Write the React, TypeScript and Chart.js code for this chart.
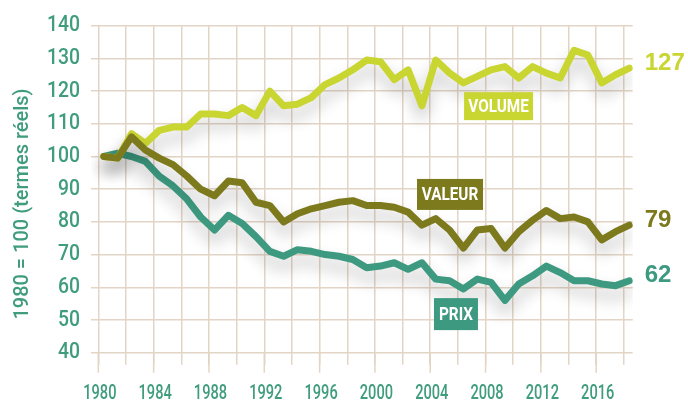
import React, { useEffect, useRef } from 'react';
import { Chart, registerables } from 'chart.js';

Chart.register(...registerables);

const years = [
  1980, 1981, 1982, 1983, 1984, 1985, 1986, 1987, 1988, 1989,
  1990, 1991, 1992, 1993, 1994, 1995, 1996, 1997, 1998, 1999,
  2000, 2001, 2002, 2003, 2004, 2005, 2006, 2007, 2008, 2009,
  2010, 2011, 2012, 2013, 2014, 2015, 2016, 2017, 2018,
];

const volume = [
  100, 99.5, 107, 104, 108, 109, 109, 113, 113, 112.5,
  115, 112.5, 120, 115.5, 116, 118, 122, 124, 126.5, 129.5,
  129, 123.5, 126.5, 115.5, 129.5, 125.5, 122.5, 124.5, 126.5, 127.5,
  124, 127.5, 125.5, 124, 132.5, 131, 122.5, 125, 127,
];

const valeur = [
  100, 99.5, 106, 102, 99.5, 97.5, 94, 90, 88, 92.5,
  92, 86, 85, 80, 82.5, 84, 85, 86, 86.5, 85,
  85, 84.5, 83, 79, 81, 77.5, 72, 77.5, 78, 72,
  77, 80.5, 83.5, 81, 81.5, 80, 74.5, 77, 79,
];

const prix = [
  100, 101, 100, 98.5, 94, 91, 87, 81.5, 77.5, 82,
  79.5, 75.5, 71, 69.5, 71.5, 71, 70, 69.5, 68.5, 66,
  66.5, 67.5, 65.5, 67.5, 62.5, 62, 59.5, 62.5, 61.5, 56,
  61, 63.5, 66.5, 64.5, 62, 62, 61, 60.5, 62,
];

const seriesNames = ['VOLUME', 'VALEUR', 'PRIX'];
const endLabels = ['127', '79', '62'];
const yTickValues = [40, 50, 60, 70, 80, 90, 100, 110, 120, 130, 140];
const xTickYears = [
  1980, 1982, 1984, 1986, 1988, 1990, 1992, 1994, 1996, 1998,
  2000, 2002, 2004, 2006, 2008, 2010, 2012, 2014, 2016, 2018,
];
const xLabelYears = [1980, 1984, 1988, 1992, 1996, 2000, 2004, 2008, 2012, 2016];
const yTitle = '1980 = 100 (termes réels)';

const COLORS = ['#c9d531', '#7d7a1e', '#3d9a80'];
const GRID = '#e3d5c5';
const LABEL = '#3f9c7c';
const SANS = "Roboto, 'Liberation Sans', sans-serif";
const BOLD = "'Liberation Sans', Arial, sans-serif";

const X_MIN = 1979.47;
const X_MAX = 2018.64;
const DATA_SHIFT = 0.4;

const toPoints = (vals: number[]) => vals.map((v, i) => ({ x: years[i], y: v }));

const boxSpecs = [
  { year: 2008.94, value: 115.4, w: 69, h: 28 },
  { year: 2005.43, value: 88.4, w: 66, h: 31 },
  { year: 2005.86, value: 51.8, w: 44, h: 32 },
];

function drawScaled(
  c: CanvasRenderingContext2D,
  text: string,
  x: number,
  y: number,
  font: string,
  sx: number,
  align: CanvasTextAlign,
  color: string,
) {
  c.save();
  c.translate(x, y);
  c.scale(sx, 1);
  c.font = font;
  c.fillStyle = color;
  c.textAlign = align;
  c.textBaseline = 'middle';
  c.fillText(text, 0, 0);
  c.restore();
}

const shadowPlugin = {
  id: 'lineShadow',
  beforeDatasetDraw(chart: any) {
    const c = chart.ctx;
    c.save();
    c.shadowColor = 'rgba(0,0,0,0.24)';
    c.shadowBlur = 16;
    c.shadowOffsetY = 10;
  },
  afterDatasetDraw(chart: any) {
    chart.ctx.restore();
  },
};

const decorPlugin = {
  id: 'decor',
  beforeDatasetsDraw(chart: any) {
    const c = chart.ctx;
    const xs = chart.scales.x;
    const ys = chart.scales.y;
    const { bottom } = chart.chartArea;
    c.save();
    c.strokeStyle = GRID;
    c.lineWidth = 1.5;
    xLabelYears.forEach((y) => {
      const px = xs.getPixelForValue(y);
      c.beginPath();
      c.moveTo(px, bottom);
      c.lineTo(px, bottom + 20);
      c.stroke();
    });
    c.restore();

    xLabelYears.forEach((y) => {
      drawScaled(c, String(y), xs.getPixelForValue(y) + 1.5, bottom + 41.5, `500 20px ${SANS}`, 0.73, 'center', LABEL);
    });
    yTickValues.forEach((v) => {
      drawScaled(c, String(v), chart.chartArea.left - 11, ys.getPixelForValue(v), `500 22px ${SANS}`, 0.88, 'right', LABEL);
    });
  },
  afterDraw(chart: any) {
    const c = chart.ctx;
    const xs = chart.scales.x;
    const ys = chart.scales.y;
    const series = [volume, valeur, prix];

    boxSpecs.forEach((b, i) => {
      const cx = xs.getPixelForValue(b.year);
      const cy = ys.getPixelForValue(b.value);
      c.save();
      c.fillStyle = COLORS[i];
      c.fillRect(cx - b.w / 2, cy - b.h / 2, b.w, b.h);
      c.restore();
      drawScaled(c, seriesNames[i], cx, cy + 1, `bold 18px ${SANS}`, 0.85, 'center', '#ffffff');
    });

    series.forEach((s, i) => {
      const y = ys.getPixelForValue(s[s.length - 1]) - 5;
      drawScaled(c, endLabels[i], chart.chartArea.right + 12, y, `bold 24px ${BOLD}`, 1, 'left', COLORS[i]);
    });

    c.save();
    c.translate(22.5, 204);
    c.rotate(-Math.PI / 2);
    c.fillStyle = LABEL;
    c.font = `500 20px ${SANS}`;
    c.textAlign = 'center';
    c.textBaseline = 'middle';
    c.fillText(yTitle, 0, 0);
    c.restore();
  },
};

export default function App() {
  const ref = useRef<HTMLCanvasElement>(null);

  useEffect(() => {
    const canvas = ref.current;
    if (!canvas) return;
    const mk = (idx: number, vals: number[], order: number) => ({
      label: seriesNames[idx],
      data: toPoints(vals),
      xAxisID: 'xd',
      yAxisID: 'y',
      borderColor: COLORS[idx],
      backgroundColor: COLORS[idx],
      borderWidth: 7,
      borderJoinStyle: 'round',
      borderCapStyle: 'round',
      pointRadius: 0,
      tension: 0,
      fill: false,
      order,
    });
    const chart = new Chart(canvas, {
      type: 'line',
      data: {
        datasets: [mk(0, volume, 1), mk(1, valeur, 0), mk(2, prix, 2)] as any,
      },
      options: {
        responsive: false,
        animation: false,
        layout: { padding: { top: 25.7, right: 55.3, left: 0, bottom: 0 } },
        plugins: {
          legend: { display: false },
          tooltip: { enabled: false },
        },
        scales: {
          x: {
            type: 'linear',
            position: 'bottom',
            min: X_MIN,
            max: X_MAX,
            afterBuildTicks: (s: any) => {
              s.ticks = xTickYears.map((v) => ({ value: v }));
            },
            afterFit: (s: any) => {
              s.height = 51.3;
              s.paddingLeft = 0;
              s.paddingRight = 0;
            },
            grid: {
              color: GRID,
              lineWidth: 1.5,
              drawTicks: true,
              tickLength: 12,
              tickColor: GRID,
              tickWidth: 1.5,
            },
            border: { display: false },
            ticks: { display: false },
          },
          xd: {
            type: 'linear',
            display: false,
            min: X_MIN - DATA_SHIFT,
            max: X_MAX - DATA_SHIFT,
          },
          y: {
            type: 'linear',
            min: 40,
            max: 140,
            afterBuildTicks: (s: any) => {
              s.ticks = yTickValues.map((v) => ({ value: v }));
            },
            afterFit: (s: any) => {
              s.width = 91;
              s.paddingTop = 0;
              s.paddingBottom = 0;
            },
            grid: { color: GRID, lineWidth: 1.5, drawTicks: false },
            border: { display: false },
            ticks: { display: false },
          },
        } as any,
      },
      plugins: [shadowPlugin, decorPlugin],
    } as any);
    return () => chart.destroy();
  }, []);

  return (
    <div style={{ position: 'fixed', left: 0, top: 0, width: 688, height: 404, background: '#ffffff' }}>
      <canvas ref={ref} width={688} height={404} style={{ display: 'block', width: 688, height: 404 }} />
    </div>
  );
}
